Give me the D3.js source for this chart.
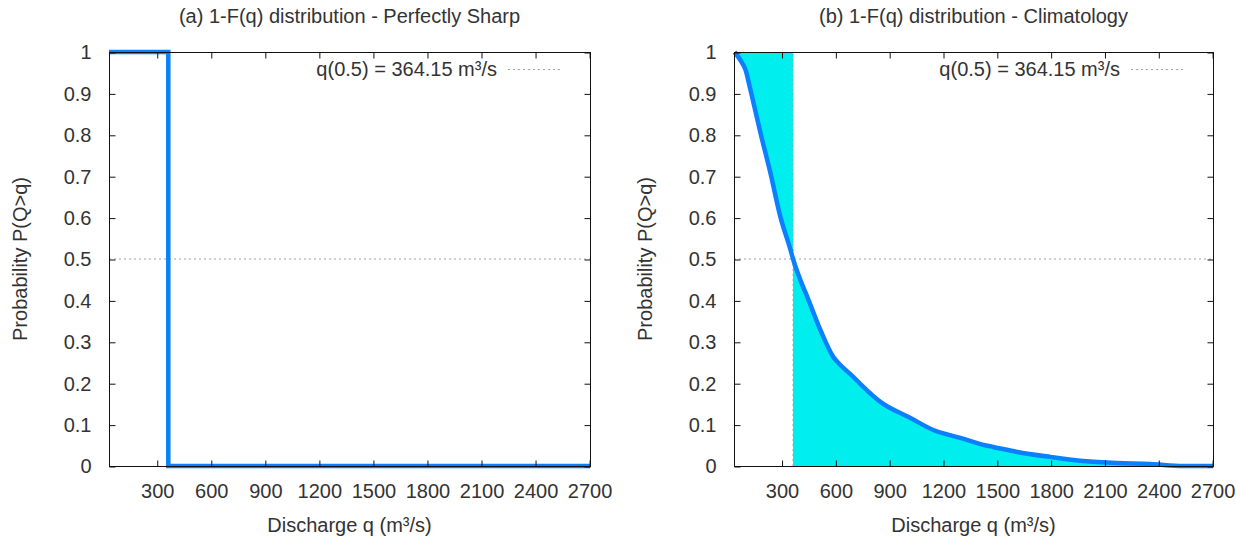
<!DOCTYPE html>
<html>
<head>
<meta charset="utf-8">
<script src="https://cdn.jsdelivr.net/npm/d3@7/dist/d3.min.js"></script>
<style>
  body { margin: 0; background: #fff; }
  svg text { font-family: "Liberation Sans", Arial, sans-serif; fill: #333; }
</style>
</head>
<body>
<svg id="chart" width="1236" height="539"></svg>
<script>
// 1-F(q) exceedance curves, two panels side by side

const xDomain = [35, 2705];
const xTicks = [300, 600, 900, 1200, 1500, 1800, 2100, 2400, 2700];
const yTicks = [0, 0.1, 0.2, 0.3, 0.4, 0.5, 0.6, 0.7, 0.8, 0.9, 1];
const median = 364.15;
const legendLabel = 'q(0.5) = 364.15 m³/s';

// (a) perfectly sharp: step at the median
const sharpQ = [35, 364.15, 2705];
const sharpP = [1, 0, 0];

// (b) climatology
const climQ = [38, 71, 99, 127, 183, 238, 294, 350, 364.15, 405, 444, 517, 589, 628, 701, 740, 851,
    1018, 1146, 1296, 1425, 1480, 1614, 1798, 1981, 2170, 2354, 2538, 2705];
const climP = [1, 0.98, 0.957, 0.908, 0.804, 0.708, 0.601, 0.522, 0.5, 0.449, 0.408, 0.328, 0.263, 0.244, 0.215, 0.198, 0.155,
    0.116, 0.087, 0.068, 0.051, 0.046, 0.034, 0.022, 0.012, 0.007, 0.005, 0.0, 0.0];

const panels = [
    { title: '(a) 1-F(q) distribution - Perfectly Sharp', left: 109, right: 590, q: sharpQ, p: sharpP, step: true },
    { title: '(b) 1-F(q) distribution - Climatology', left: 734, right: 1213, q: climQ, p: climP, step: false }
];

const plotTop = 52, plotBottom = 466;
const lineColor = '#0a80ff';
const fillColor = '#00eeee';
const fontSize = '20px';
const svg = d3.select('#chart');

panels.forEach(panel => {
    const x = d3.scaleLinear().domain(xDomain).range([panel.left, panel.right]);
    const y = d3.scaleLinear().domain([0, 1]).range([plotBottom, plotTop]);
    const g = svg.append('g');
    const pts = panel.q.map((q, i) => ({ q: q, p: panel.p[i] }));

    // shaded area: above the curve before the median, below it after
    if (!panel.step) {
        const before = pts.filter(d => d.q <= median);
        const after = pts.filter(d => d.q >= median);
        g.append('path')
            .attr('d', d3.area().curve(d3.curveMonotoneX).x(d => x(d.q)).y0(y(1)).y1(d => y(d.p))(before))
            .attr('fill', fillColor);
        g.append('path')
            .attr('d', d3.area().curve(d3.curveMonotoneX).x(d => x(d.q)).y0(y(0)).y1(d => y(d.p))(after))
            .attr('fill', fillColor);
    }

    // median guides
    g.append('line')
        .attr('x1', x(xDomain[0])).attr('x2', x(xDomain[1]))
        .attr('y1', y(0.5)).attr('y2', y(0.5))
        .attr('stroke', '#a0a0a0').attr('stroke-width', 1).attr('stroke-dasharray', '2,3');
    g.append('line')
        .attr('x1', x(median)).attr('x2', x(median))
        .attr('y1', y(0)).attr('y2', y(1))
        .attr('stroke', '#a0a0a0').attr('stroke-width', 1).attr('stroke-dasharray', '2,3');

    // curve
    const line = d3.line().x(d => x(d.q)).y(d => y(d.p))
        .curve(panel.step ? d3.curveStepAfter : d3.curveMonotoneX);
    g.append('path')
        .attr('d', line(pts))
        .attr('fill', 'none')
        .attr('stroke', lineColor)
        .attr('stroke-width', 4.5);

    // frame with inward ticks on all sides
    g.append('rect')
        .attr('x', panel.left + 0.5).attr('y', plotTop + 0.5)
        .attr('width', panel.right - panel.left).attr('height', plotBottom - plotTop)
        .attr('fill', 'none').attr('stroke', '#111').attr('stroke-width', 1);

    const bottomAxis = d3.axisBottom(x).tickValues(xTicks).tickSize(-6).tickPadding(17).tickFormat(d3.format('d'));
    const topAxis = d3.axisTop(x).tickValues(xTicks).tickSize(-6).tickFormat('');
    const leftAxis = d3.axisLeft(y).tickValues(yTicks).tickSize(-6).tickPadding(18).tickFormat(d => d3.format('')(d));
    const rightAxis = d3.axisRight(y).tickValues(yTicks).tickSize(-6).tickFormat('');

    [[bottomAxis, `translate(0.5,${plotBottom + 0.5})`], [topAxis, `translate(0.5,${plotTop + 0.5})`],
     [leftAxis, `translate(${panel.left + 0.5},0.5)`], [rightAxis, `translate(${panel.right + 0.5},0.5)`]]
        .forEach(([axis, tr]) => {
            const a = g.append('g').attr('transform', tr).call(axis);
            a.select('.domain').remove();
            a.selectAll('line').attr('stroke', '#111');
            a.selectAll('text').style('font-size', fontSize).attr('fill', '#333');
        });

    const cx = (panel.left + panel.right) / 2;

    g.append('text')
        .attr('x', cx).attr('y', 23)
        .attr('text-anchor', 'middle')
        .style('font-size', fontSize)
        .text(panel.title);

    g.append('text')
        .attr('x', cx).attr('y', 532)
        .attr('text-anchor', 'middle')
        .style('font-size', fontSize)
        .text('Discharge q (m³/s)');

    g.append('text')
        .attr('transform', `translate(${panel.left - 82},${(plotTop + plotBottom) / 2}) rotate(-90)`)
        .attr('text-anchor', 'middle')
        .style('font-size', fontSize)
        .text('Probability P(Q>q)');

    // key
    g.append('text')
        .attr('x', panel.right - 93).attr('y', 76)
        .attr('text-anchor', 'end')
        .style('font-size', fontSize)
        .text(legendLabel);
    g.append('line')
        .attr('x1', panel.right - 82).attr('x2', panel.right - 27)
        .attr('y1', 69.5).attr('y2', 69.5)
        .attr('stroke', '#a0a0a0').attr('stroke-width', 1).attr('stroke-dasharray', '2,3');
});
</script>
</body>
</html>
